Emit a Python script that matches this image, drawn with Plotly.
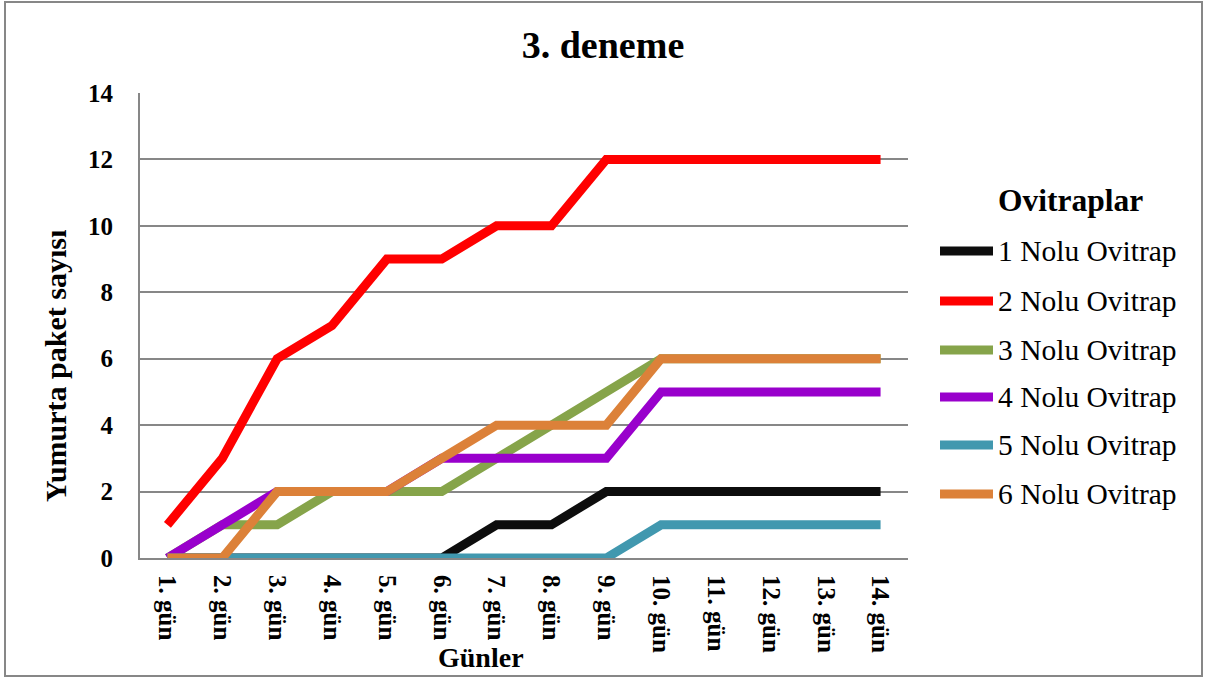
import plotly.graph_objects as go

# ---- data ----
days = ["1. gün", "2. gün", "3. gün", "4. gün", "5. gün", "6. gün", "7. gün",
        "8. gün", "9. gün", "10. gün", "11. gün", "12. gün", "13. gün", "14. gün"]
series_names = ["1 Nolu Ovitrap", "2 Nolu Ovitrap", "3 Nolu Ovitrap",
                "4 Nolu Ovitrap", "5 Nolu Ovitrap", "6 Nolu Ovitrap"]
ovitrap1 = [0, 0, 0, 0, 0, 0, 1, 1, 2, 2, 2, 2, 2, 2]
ovitrap2 = [1, 3, 6, 7, 9, 9, 10, 10, 12, 12, 12, 12, 12, 12]
ovitrap3 = [0, 1, 1, 2, 2, 2, 3, 4, 5, 6, 6, 6, 6, 6]
ovitrap4 = [0, 1, 2, 2, 2, 3, 3, 3, 3, 5, 5, 5, 5, 5]
ovitrap5 = [0, 0, 0, 0, 0, 0, 0, 0, 0, 1, 1, 1, 1, 1]
ovitrap6 = [0, 0, 2, 2, 2, 3, 4, 4, 4, 6, 6, 6, 6, 6]
y_ticks = [0, 2, 4, 6, 8, 10, 12, 14]

series_values = [ovitrap1, ovitrap2, ovitrap3, ovitrap4, ovitrap5, ovitrap6]
colors = ["#0d0d0d", "#ff0000", "#86a44a", "#9900cc", "#4198af", "#dc8139"]

FONT = "Liberation Serif"
W, H = 1208, 679
PL, PR, PT, PB = 140, 908, 93, 558  # plot area in pixels


def px(x):
    return (x - PL) / (PR - PL)


def py(y):
    return (PB - y) / (PB - PT)


fig = go.Figure()
for name, vals, col in zip(series_names, series_values, colors):
    fig.add_trace(go.Scatter(x=days, y=vals, name=name, mode="lines",
                             line=dict(color=col, width=9), showlegend=False))

shapes = [dict(type="rect", xref="paper", yref="paper",
               x0=px(5), x1=px(1202), y0=py(676), y1=py(2),
               line=dict(color="#878787", width=2), layer="below")]
annotations = [
    dict(text="Yumurta paket sayısı", xref="paper", yref="paper",
         x=px(55), y=py(366), textangle=-90, showarrow=False,
         xanchor="center", yanchor="middle",
         font=dict(family=FONT, size=30, color="black", weight="bold")),
    dict(text="Günler", xref="paper", yref="paper",
         x=px(481), y=py(657), showarrow=False,
         xanchor="center", yanchor="middle",
         font=dict(family=FONT, size=28, color="black", weight="bold")),
    dict(text="Ovitraplar", xref="paper", yref="paper",
         x=px(1070), y=py(200), showarrow=False,
         xanchor="center", yanchor="middle",
         font=dict(family=FONT, size=31.5, color="black", weight="bold")),
]

leg_y = [251, 301, 350, 397, 445, 494]
for name, col, ly in zip(series_names, colors, leg_y):
    shapes.append(dict(type="line", xref="paper", yref="paper",
                       x0=px(940), x1=px(993), y0=py(ly), y1=py(ly),
                       line=dict(color=col, width=9)))
    annotations.append(dict(text=name, xref="paper", yref="paper",
                            x=px(996), y=py(ly), showarrow=False,
                            xanchor="left", yanchor="middle",
                            font=dict(family=FONT, size=29.5, color="black")))

fig.update_layout(
    width=W, height=H,
    margin=dict(l=PL, r=W - PR, t=PT, b=H - PB, pad=0),
    paper_bgcolor="white", plot_bgcolor="white",
    title=dict(text="3. deneme", x=603 / W, y=1 - 45 / H,
               xanchor="center", yanchor="middle", xref="container",
               font=dict(family=FONT, size=38, color="black", weight="bold")),
    shapes=shapes, annotations=annotations, showlegend=False,
)
fig.update_xaxes(type="category", range=[-0.5, len(days) - 0.5],
                 showgrid=False, showline=True, linecolor="#878787", linewidth=2,
                 tickangle=90, ticks="", ticklabelstandoff=10,
                 tickfont=dict(family=FONT, size=25, color="black", weight="bold"),
                 zeroline=False)
fig.update_yaxes(range=[0, 14], tickvals=y_ticks, showgrid=True,
                 gridcolor="#878787", gridwidth=1.5,
                 showline=True, linecolor="#878787", linewidth=2,
                 ticks="", ticklabelstandoff=20, zeroline=False,
                 tickfont=dict(family=FONT, size=25, color="black", weight="bold"))

fig.write_html("out.html",
               config={"displayModeBar": False},
               post_script="document.body.style.margin='0';"
                           "document.body.style.overflow='hidden';")
